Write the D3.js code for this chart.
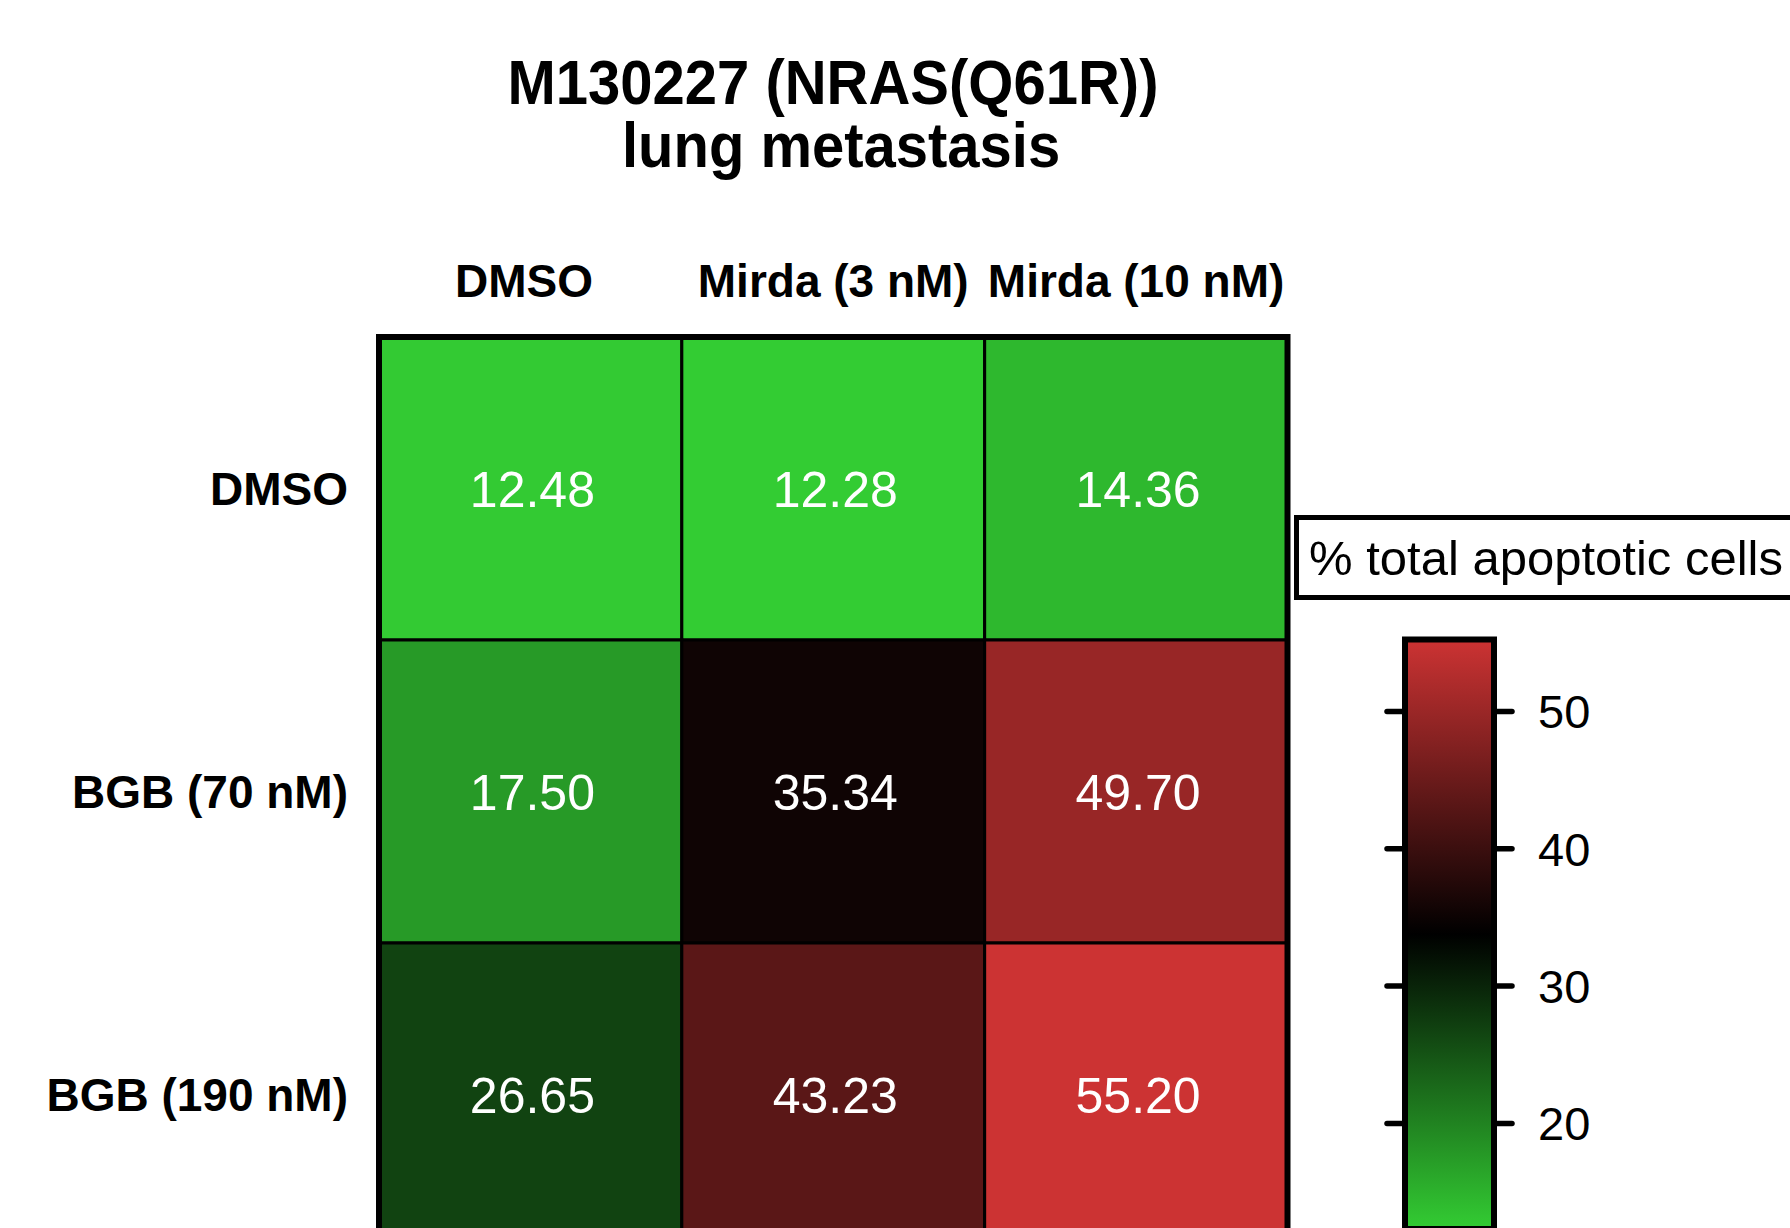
<!DOCTYPE html>
<html>
<head>
<meta charset="utf-8">
<script src="https://cdn.jsdelivr.net/npm/d3@7"></script>
<style>
  html, body { margin: 0; padding: 0; background: #ffffff; }
  svg { display: block; }
  text { font-family: Arial, "Liberation Sans", Helvetica, sans-serif; }
</style>
</head>
<body>
<svg id="chart" width="1790" height="1228"></svg>
<script>
// ---- data ----
const titleLines = ["M130227 (NRAS(Q61R))", "\u00A0lung metastasis"];
const columns = ["DMSO\u00A0", "Mirda (3 nM)", "Mirda (10 nM)"];
const rows = ["DMSO", "BGB (70 nM)", "BGB (190 nM)"];
const valuesDMSO = [12.48, 12.28, 14.36];
const valuesBGB70 = [17.50, 35.34, 49.70];
const valuesBGB190 = [26.65, 43.23, 55.20];
const colorTicks = [20, 30, 40, 50];
const legendTitle = "% total apoptotic cells";
const colorStops = ["#33cc33", "#000000", "#cc3333"];

const matrix = [valuesDMSO, valuesBGB70, valuesBGB190];
const cells = [];
matrix.forEach((r, i) => r.forEach((v, j) => cells.push({ row: rows[i], col: columns[j], value: v })));

const svg = d3.select("#chart");

// ---- scales ----
const x = d3.scaleBand().domain(columns).range([379, 1287.5]).padding(0);
const y = d3.scaleBand().domain(rows).range([337, 1246]).padding(0);
const vmin = d3.min(cells, d => d.value), vmax = d3.max(cells, d => d.value);
const vmid = (vmin + vmax) / 2;
const color = d3.scaleLinear().domain([vmin, vmid, vmax]).range(colorStops);

// ---- title ----
const titleG = svg.append("g");
titleLines.forEach((t, i) => {
  titleG.append("text")
    .attr("transform", `translate(833, ${104 + i * 63}) scale(1, 1.1)`)
    .attr("text-anchor", "middle")
    .attr("font-weight", "bold")
    .attr("font-size", 58)
    .attr("fill", "#000")
    .text(t);
});

// ---- cells ----
svg.append("g").selectAll("rect")
  .data(cells).join("rect")
  .attr("x", d => x(d.col))
  .attr("y", d => y(d.row))
  .attr("width", x.bandwidth())
  .attr("height", y.bandwidth())
  .attr("fill", d => color(d.value))
  .attr("stroke", "#000")
  .attr("stroke-width", 3);

svg.append("g").selectAll("text")
  .data(cells).join("text")
  .attr("x", d => x(d.col) + x.bandwidth() / 2 + 2)
  .attr("y", d => y(d.row) + y.bandwidth() / 2 + 18)
  .attr("text-anchor", "middle")
  .attr("font-size", 50)
  .attr("fill", "#ffffff")
  .text(d => d.value.toFixed(2));

// outer border
svg.append("rect")
  .attr("x", x.range()[0]).attr("y", y.range()[0])
  .attr("width", x.range()[1] - x.range()[0])
  .attr("height", y.range()[1] - y.range()[0])
  .attr("fill", "none").attr("stroke", "#000").attr("stroke-width", 6);

// column labels
svg.append("g").selectAll("text")
  .data(columns).join("text")
  .attr("x", d => x(d) + x.bandwidth() / 2)
  .attr("y", 297)
  .attr("text-anchor", "middle")
  .attr("font-weight", "bold")
  .attr("font-size", 46)
  .text(d => d);

// row labels
svg.append("g").selectAll("text")
  .data(rows).join("text")
  .attr("x", 348)
  .attr("y", d => y(d) + y.bandwidth() / 2 + 16)
  .attr("text-anchor", "end")
  .attr("font-weight", "bold")
  .attr("font-size", 46)
  .text(d => d);

// ---- legend title box ----
svg.append("rect")
  .attr("x", 1296.5).attr("y", 517.5)
  .attr("width", 600).attr("height", 80)
  .attr("fill", "#fff").attr("stroke", "#000").attr("stroke-width", 5);
svg.append("text")
  .attr("x", 1309).attr("y", 575)
  .attr("font-size", 49)
  .text(legendTitle);

// ---- colorbar ----
const cb = d3.scaleLinear().domain([vmin, vmax]).range([1229, 639.5]);
const barL = 1405, barR = 1494;

const defs = svg.append("defs");
const grad = defs.append("linearGradient")
  .attr("id", "cbgrad")
  .attr("gradientUnits", "userSpaceOnUse")
  .attr("x1", 0).attr("x2", 0)
  .attr("y1", cb(vmin)).attr("y2", cb(vmax));
grad.selectAll("stop")
  .data([vmin, vmid, vmax]).join("stop")
  .attr("offset", d => (d - vmin) / (vmax - vmin))
  .attr("stop-color", d => color(d));

const axR = svg.append("g")
  .attr("transform", `translate(${barR},0)`)
  .call(d3.axisRight(cb).tickValues(colorTicks).tickSize(18).tickPadding(26).tickFormat(d3.format("d")));
const axL = svg.append("g")
  .attr("transform", `translate(${barL},0)`)
  .call(d3.axisLeft(cb).tickValues(colorTicks).tickSize(18).tickFormat(""));
[axR, axL].forEach(a => {
  a.select(".domain").remove();
  a.selectAll(".tick line").attr("stroke", "#000").attr("stroke-width", 5.5).attr("stroke-linecap", "round");
});
axR.selectAll(".tick text")
  .attr("font-size", 47)
  .attr("font-family", "Arial, 'Liberation Sans', sans-serif")
  .attr("fill", "#000")
  .attr("x", 44)
  .attr("dy", "0.36em");

svg.append("rect")
  .attr("x", barL).attr("y", cb(vmax))
  .attr("width", barR - barL)
  .attr("height", cb(vmin) - cb(vmax))
  .attr("fill", "url(#cbgrad)")
  .attr("stroke", "#000").attr("stroke-width", 6);
</script>
</body>
</html>
